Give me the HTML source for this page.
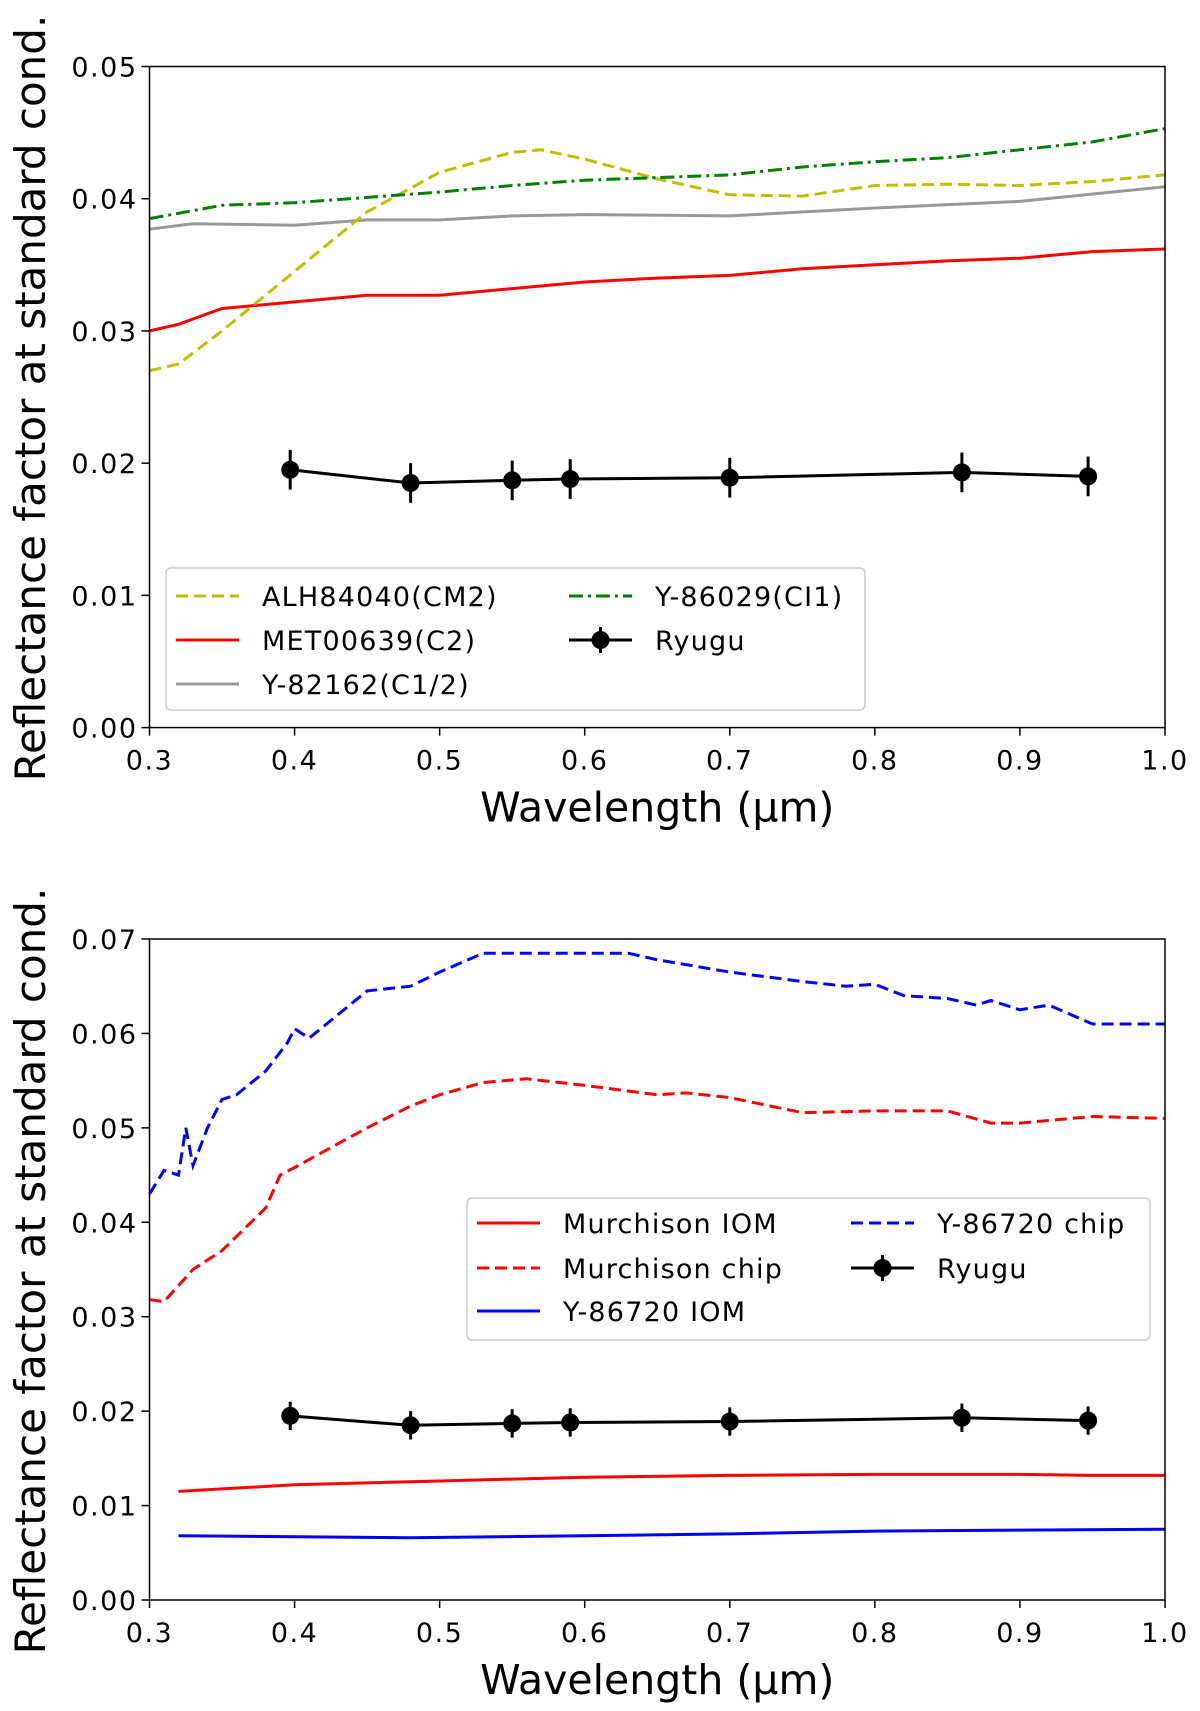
<!DOCTYPE html>
<html><head><meta charset="utf-8"><style>
body{margin:0;background:#fff}
svg{display:block;font-family:"DejaVu Sans","Liberation Sans",sans-serif}
</style></head><body>
<svg id="fig" width="1200" height="1711" viewBox="0 0 1200 1711"></svg>
<script>
// ---- top panel data ----
const alhX=[0.30,0.32,0.35,0.40,0.45,0.50,0.55,0.57,0.60,0.65,0.70,0.75,0.80,0.85,0.90,0.95,1.0];
const alhY=[0.027,0.0275,0.030,0.0345,0.039,0.042,0.0435,0.0437,0.043,0.0415,0.0403,0.0402,0.041,0.0411,0.041,0.0413,0.0418];
const metX=[0.30,0.32,0.35,0.40,0.45,0.50,0.55,0.60,0.65,0.70,0.75,0.80,0.85,0.90,0.95,1.0];
const metY=[0.030,0.0305,0.0317,0.0322,0.0327,0.0327,0.0332,0.0337,0.034,0.0342,0.0347,0.035,0.0353,0.0355,0.036,0.0362];
const y82X=[0.30,0.33,0.40,0.45,0.50,0.55,0.60,0.70,0.80,0.90,1.0];
const y82Y=[0.0377,0.0381,0.038,0.0384,0.0384,0.0387,0.0388,0.0387,0.0393,0.0398,0.0409];
const y86X=[0.30,0.35,0.40,0.45,0.50,0.55,0.60,0.65,0.70,0.75,0.80,0.85,0.90,0.95,1.0];
const y86Y=[0.0385,0.0395,0.0397,0.0401,0.0405,0.041,0.0414,0.0416,0.0418,0.0424,0.0428,0.0431,0.0437,0.0443,0.0453];
const ryX=[0.397,0.48,0.55,0.59,0.70,0.86,0.947];
const ryY=[0.0195,0.0185,0.0187,0.0188,0.0189,0.0193,0.019];
const ryErr=[0.0015,0.0015,0.0015,0.0015,0.0015,0.0015,0.0015];
// ---- bottom panel data ----
const ychX=[0.30,0.31,0.32,0.325,0.33,0.34,0.35,0.36,0.38,0.395,0.40,0.41,0.45,0.48,0.50,0.53,0.55,0.60,0.63,0.65,0.70,0.75,0.78,0.80,0.82,0.85,0.87,0.88,0.90,0.92,0.95,1.0];
const ychY=[0.043,0.0455,0.045,0.050,0.046,0.050,0.053,0.0535,0.056,0.059,0.0605,0.0595,0.0645,0.065,0.0665,0.0685,0.0685,0.0685,0.0685,0.0678,0.0665,0.0655,0.065,0.0652,0.064,0.0637,0.063,0.0635,0.0625,0.063,0.061,0.061];
const mchX=[0.30,0.31,0.33,0.35,0.38,0.39,0.40,0.45,0.48,0.50,0.53,0.56,0.60,0.65,0.67,0.70,0.75,0.80,0.85,0.88,0.90,0.95,1.0];
const mchY=[0.0318,0.0316,0.035,0.037,0.0415,0.045,0.0458,0.050,0.0523,0.0535,0.0548,0.0552,0.0545,0.0535,0.0537,0.0532,0.0516,0.0518,0.0518,0.0505,0.0505,0.0512,0.051];
const miomX=[0.32,0.40,0.50,0.60,0.70,0.80,0.90,0.95,1.0];
const miomY=[0.0115,0.0122,0.0126,0.013,0.0132,0.0133,0.0133,0.0132,0.0132];
const yiomX=[0.32,0.48,0.60,0.70,0.80,0.90,1.0];
const yiomY=[0.0068,0.0066,0.0068,0.007,0.0073,0.0074,0.0075];
const xTicks=["0.3","0.4","0.5","0.6","0.7","0.8","0.9","1.0"];
const topYTicks=["0.00","0.01","0.02","0.03","0.04","0.05"];
const botYTicks=["0.00","0.01","0.02","0.03","0.04","0.05","0.06","0.07"];

const NS="http://www.w3.org/2000/svg";
const svg=document.getElementById('fig');
function mk(tag,attrs,parent){const e=document.createElementNS(NS,tag);for(const k in attrs)e.setAttribute(k,attrs[k]);(parent||svg).appendChild(e);return e;}
const L=149.5,R=1165;
function sx(v){return L+(v-0.3)/0.7*(R-L);}

function panel(top,bot,ymax,yTicks,name,yLabelY){
  const g=mk('g',{});
  
  
  const sy=v=>bot-(v/ymax)*(bot-top);
  xTicks.forEach(t=>{const x=sx(+t);
    mk('line',{x1:x,x2:x,y1:bot,y2:bot+8,stroke:'#000','stroke-width':1.5},g);
    const tx=mk('text',{x:x,y:bot+42,'font-size':27,'letter-spacing':1.5,'text-anchor':'middle'},g);tx.textContent=t;
    });
  yTicks.forEach(t=>{const y=sy(+t);
    mk('line',{x1:L-8,x2:L,y1:y,y2:y,stroke:'#000','stroke-width':1.5},g);
    const tx=mk('text',{x:L-12,y:y+10,'font-size':27,'letter-spacing':1.5,'text-anchor':'end'},g);tx.textContent=t;
    });
  const xl=mk('text',{x:(L+R)/2,y:bot+94,'font-size':41,'text-anchor':'middle'},g);xl.textContent='Wavelength (μm)';
  
  const yl=mk('text',{x:0,y:0,'font-size':42,'text-anchor':'middle',transform:`translate(45,${yLabelY}) rotate(-90)`},g);yl.textContent='Reflectance factor at standard cond.';
  
  return {g,sy};
}
function line(p,xs,ys,color,dash,name){
  const d=xs.map((x,i)=>(i?'L':'M')+sx(x).toFixed(1)+','+p.sy(ys[i]).toFixed(1)).join('');
  const e=mk('path',{d,fill:'none',stroke:color,'stroke-width':3,'stroke-dasharray':dash||'none'},p.g);
  
}
function ryugu(p){
  line(p,ryX,ryY,'#000','', 'ryugu-line');
  ryX.forEach((x,i)=>{
    const c=mk('line',{x1:sx(x),x2:sx(x),y1:p.sy(ryY[i]+ryErr[i]),y2:p.sy(ryY[i]-ryErr[i]),stroke:'#000','stroke-width':3},p.g);
    
    const m=mk('circle',{cx:sx(x),cy:p.sy(ryY[i]),r:9,fill:'#000'},p.g);
    
  });
}
function frame(p,top,bot){mk('rect',{x:L,y:top,width:R-L,height:bot-top,fill:'none',stroke:'#000','stroke-width':1.5},p.g);}
function legend(p,box,entries){
  const lg=mk('g',{},p.g);
  
  mk('rect',{x:box[0],y:box[1],width:box[2],height:box[3],rx:5,fill:'#fff','fill-opacity':0.85,stroke:'#ccc','stroke-width':1.5},lg);
  entries.forEach(e=>{
    const eg=mk('g',{},lg);
    
    mk('line',{x1:e.x,x2:e.x+63,y1:e.y,y2:e.y,stroke:e.c,'stroke-width':3,'stroke-dasharray':e.d||'none'},eg);
    if(e.m)mk('circle',{cx:e.x+31.5,cy:e.y,r:9,fill:'#000'},eg);
    if(e.m)mk('line',{x1:e.x+31.5,x2:e.x+31.5,y1:e.y-13,y2:e.y+13,stroke:'#000','stroke-width':3},eg);
    const t=mk('text',{x:e.x+86,y:e.y+10,'font-size':27,'letter-spacing':1.2},eg);t.textContent=e.t;
  });
}
// top
const T=panel(66.5,727.6,0.05,topYTicks,'top-chart',398);
line(T,y82X,y82Y,'#999999','','y82162-line');
line(T,metX,metY,'#ff0000','','met00639-line');
line(T,alhX,alhY,'#bfbf00','12,6','alh84040-line');
line(T,y86X,y86Y,'#008000','14,5,3,5','y86029-line');
ryugu(T);
frame(T,66.5,727.6);
legend(T,[166,568,699,142],[
 {x:176,y:596,c:'#bfbf00',d:'12,6',t:'ALH84040(CM2)'},
 {x:176,y:640,c:'#ff0000',t:'MET00639(C2)'},
 {x:176,y:684,c:'#999999',t:'Y-82162(C1/2)'},
 {x:569,y:596,c:'#008000',d:'14,5,3,5',t:'Y-86029(CI1)'},
 {x:569,y:640,c:'#000',m:1,t:'Ryugu'}]);
// bottom
const B=panel(939,1600,0.07,botYTicks,'bottom-chart',1271);
line(B,ychX,ychY,'#0000ff','12,6','y86720-chip-line');
line(B,mchX,mchY,'#ff0000','12,6','murchison-chip-line');
line(B,miomX,miomY,'#ff0000','','murchison-iom-line');
line(B,yiomX,yiomY,'#0000ff','','y86720-iom-line');
ryugu(B);
frame(B,939,1600);
legend(B,[467,1198,683,142],[
 {x:477,y:1223,c:'#ff0000',t:'Murchison IOM'},
 {x:477,y:1268,c:'#ff0000',d:'12,6',t:'Murchison chip'},
 {x:477,y:1311,c:'#0000ff',t:'Y-86720 IOM'},
 {x:851,y:1223,c:'#0000ff',d:'12,6',t:'Y-86720 chip'},
 {x:851,y:1268,c:'#000',m:1,t:'Ryugu'}]);
</script>
</body></html>
